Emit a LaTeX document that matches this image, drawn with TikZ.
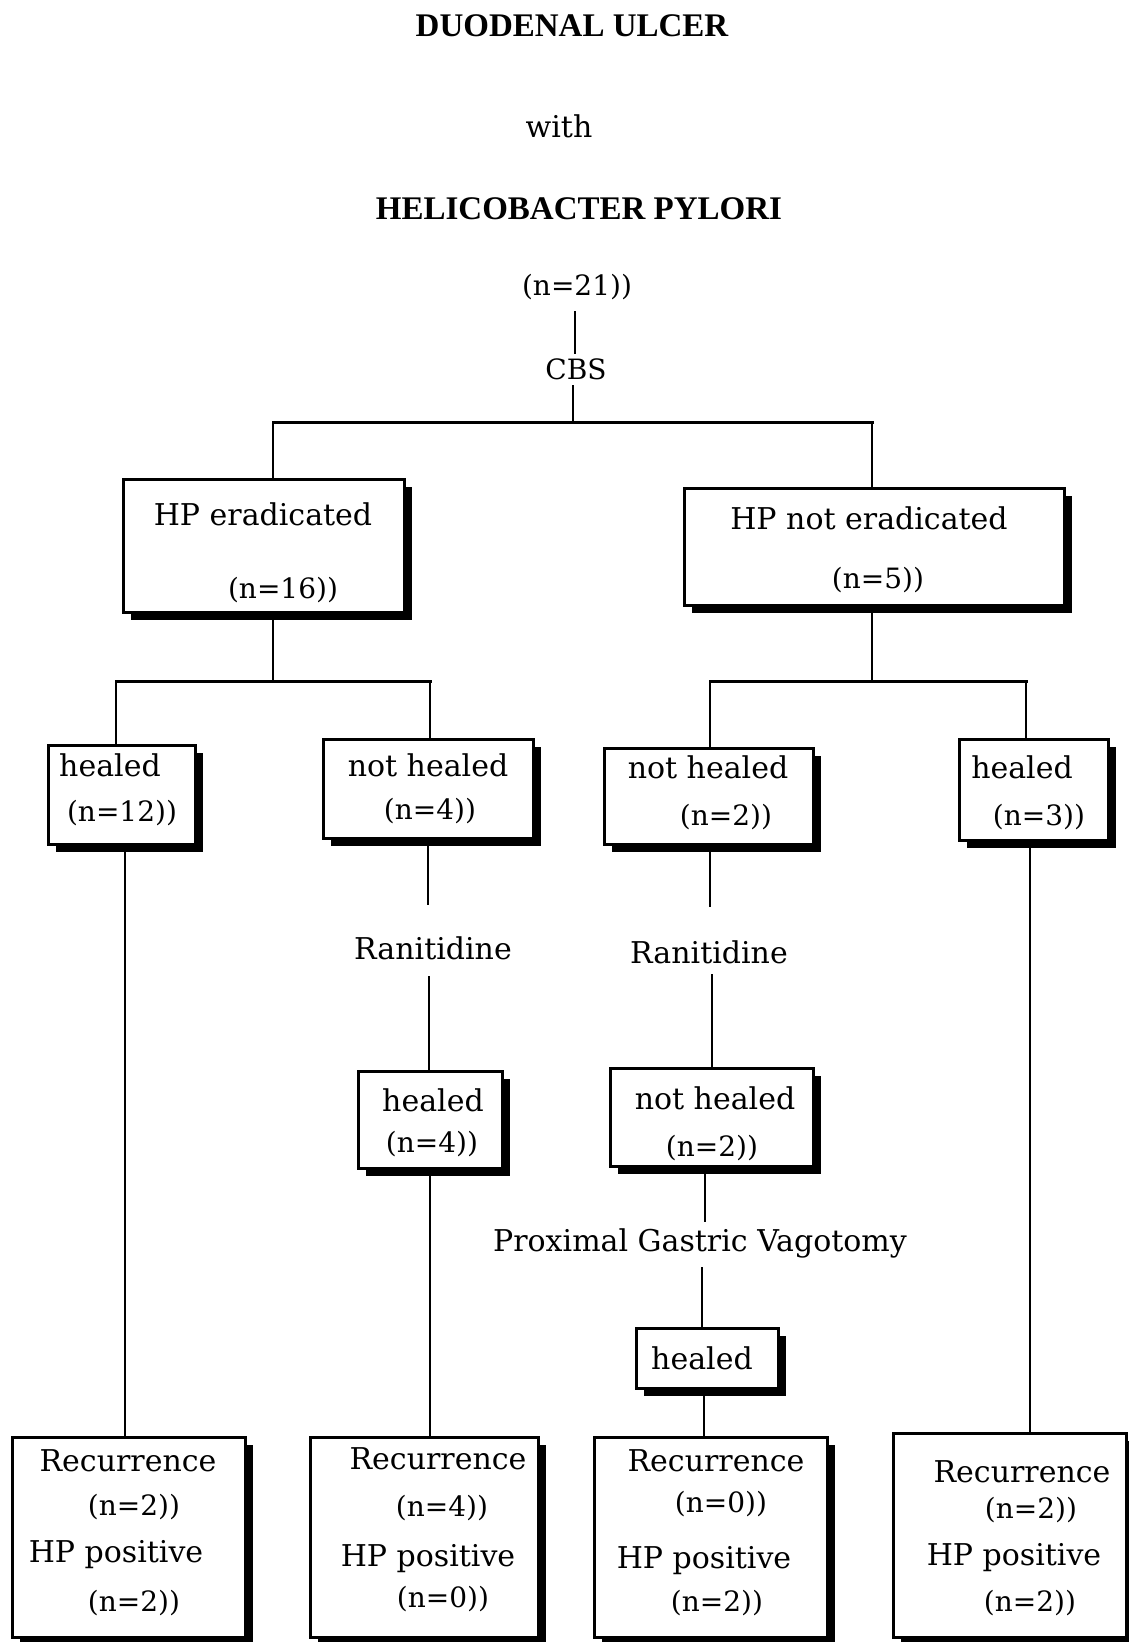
\documentclass[tikz,border=0pt]{standalone}
\usepackage{fontspec}
\setmainfont{DejaVu Serif}
\newfontfamily\titlefont{Liberation Serif}
\usetikzlibrary{fit,shadows}
\tikzset{
  box/.style={draw, line width=3pt, fill=white, inner sep=0pt,
    drop shadow={fill=black, opacity=1, shadow xshift=8pt, shadow yshift=-8pt}},
  lbl/.style={inner sep=0pt, anchor=base, yshift=-11pt, font=\fontsize{30}{36}\selectfont},
  cnt/.style={inner sep=0pt, anchor=base, yshift=-10pt, font=\fontsize{28}{34}\selectfont},
  small/.style={inner sep=0pt, anchor=base, yshift=-10pt, font=\fontsize{28}{34}\selectfont},
  ttl/.style={inner sep=0pt, anchor=base, yshift=-11pt, font=\titlefont\bfseries\fontsize{33}{40}\selectfont},
  conn/.style={line width=2.5pt},
  hbar/.style={line width=3pt, line cap=rect}
}
\begin{document}
\begin{tikzpicture}[x=1pt,y=-1pt]
\useasboundingbox (0,0) rectangle (1128,1642);
% titles
\node[ttl] (t1) at (572,25) {DUODENAL ULCER};
\node[lbl] (with) at (559,126) {with};
\node[ttl] (t2) at (579,208) {HELICOBACTER PYLORI};
\node[small] (n21) at (577,285) {(n=21))};
\node[small] (cbs) at (576,369) {CBS};
\coordinate (topa) at (575,311);
\coordinate (topb) at (575,354);
\draw[conn] (topa) -- (topb);
\coordinate (bl) at (273,422);
\coordinate (bm) at (573,422);
\coordinate (br) at (872,422);
\coordinate (cbsb) at (573,385);
\draw[conn] (cbsb) -- (bm);
\draw[hbar] (bl) -- (br);
% level 1 boxes
\node[box, fit={(123,479) (404,612)}] (hpe) {};
\node[lbl] (hpet) at (263,514) {HP eradicated};
\node[cnt] (hpen) at (283,588) {(n=16))};
\node[box, fit={(684,488) (1064,605)}] (hpne) {};
\node[lbl] (hpnet) at (869,518) {HP not eradicated};
\node[cnt] (hpnen) at (878,578) {(n=5))};
\draw[conn] (bl) -- (bl |- hpe.north);
\draw[conn] (br) -- (br |- hpne.north);
% level 2 bars
\coordinate (la) at (273,681);
\coordinate (ll) at (116,681);
\coordinate (lr) at (430,681);
\coordinate (ra) at (872,681);
\coordinate (rl) at (710,681);
\coordinate (rr) at (1026,681);
\draw[conn] (la |- hpe.south) -- (la);
\draw[conn] (ra |- hpne.south) -- (ra);
\draw[hbar] (ll) -- (lr);
\draw[hbar] (rl) -- (rr);
% level 2 boxes
\node[box, fit={(48,745) (195,844)}] (h12) {};
\node[lbl] (h12t) at (110,765) {healed};
\node[cnt] (h12n) at (122,811) {(n=12))};
\node[box, fit={(323,739) (533,838)}] (nh4) {};
\node[lbl] (nh4t) at (428,765) {not healed};
\node[cnt] (nh4n) at (430,809) {(n=4))};
\node[box, fit={(604,748) (813,844)}] (nh2) {};
\node[lbl] (nh2t) at (708,767) {not healed};
\node[cnt] (nh2n) at (726,815) {(n=2))};
\node[box, fit={(959,739) (1108,840)}] (h3) {};
\node[lbl] (h3t) at (1022,767) {healed};
\node[cnt] (h3n) at (1039,815) {(n=3))};
\draw[conn] (ll) -- (ll |- h12.north);
\draw[conn] (lr) -- (lr |- nh4.north);
\draw[conn] (rl) -- (rl |- nh2.north);
\draw[conn] (rr) -- (rr |- h3.north);
% column B
\coordinate (b1) at (428,905);
\draw[conn] (b1 |- nh4.south) -- (b1);
\node[lbl] (ranl) at (433,948) {Ranitidine};
\coordinate (b2) at (429,976);
\node[box, fit={(358,1071) (502,1168)}] (h4b) {};
\node[lbl] (h4bt) at (433,1100) {healed};
\node[cnt] (h4bn) at (432,1142) {(n=4))};
\draw[conn] (b2) -- (b2 |- h4b.north);
% column C
\coordinate (c1) at (710,907);
\draw[conn] (c1 |- nh2.south) -- (c1);
\node[lbl] (ranr) at (709,952) {Ranitidine};
\coordinate (c2) at (712,974);
\node[box, fit={(610,1068) (813,1166)}] (nh2b) {};
\node[lbl] (nh2bt) at (715,1098) {not healed};
\node[cnt] (nh2bn) at (712,1146) {(n=2))};
\draw[conn] (c2) -- (c2 |- nh2b.north);
\coordinate (c3) at (705,1222);
\draw[conn] (c3 |- nh2b.south) -- (c3);
\node[lbl] (pgv) at (700,1240) {Proximal Gastric Vagotomy};
\coordinate (c4) at (702,1267);
\node[box, fit={(636,1328) (778,1388)}] (hpgv) {};
\node[lbl] (hpgvt) at (702,1358) {healed};
\draw[conn] (c4) -- (c4 |- hpgv.north);
% bottom boxes
\node[box, fit={(12,1437) (245,1637)}] (rA) {};
\node[lbl] (rA1) at (128,1460) {Recurrence};
\node[cnt] (rA2) at (134,1505) {(n=2))};
\node[lbl] (rA3) at (116,1551) {HP positive};
\node[cnt] (rA4) at (134,1601) {(n=2))};
\node[box, fit={(310,1437) (538,1637)}] (rB) {};
\node[lbl] (rB1) at (438,1458) {Recurrence};
\node[cnt] (rB2) at (442,1506) {(n=4))};
\node[lbl] (rB3) at (428,1555) {HP positive};
\node[cnt] (rB4) at (443,1597) {(n=0))};
\node[box, fit={(594,1437) (827,1637)}] (rC) {};
\node[lbl] (rC1) at (716,1460) {Recurrence};
\node[cnt] (rC2) at (721,1502) {(n=0))};
\node[lbl] (rC3) at (704,1557) {HP positive};
\node[cnt] (rC4) at (717,1601) {(n=2))};
\node[box, fit={(893,1433) (1126,1637)}] (rD) {};
\node[lbl] (rD1) at (1022,1471) {Recurrence};
\node[cnt] (rD2) at (1031,1508) {(n=2))};
\node[lbl] (rD3) at (1014,1554) {HP positive};
\node[cnt] (rD4) at (1030,1601) {(n=2))};
% long verticals
\coordinate (xa) at (125,0);
\coordinate (xb) at (430,0);
\coordinate (xc) at (704,0);
\coordinate (xd) at (1030,0);
\draw[conn] (xa |- h12.south) -- (xa |- rA.north);
\draw[conn] (xb |- h4b.south) -- (xb |- rB.north);
\draw[conn] (xc |- hpgv.south) -- (xc |- rC.north);
\draw[conn] (xd |- h3.south) -- (xd |- rD.north);
\end{tikzpicture}
\end{document}
